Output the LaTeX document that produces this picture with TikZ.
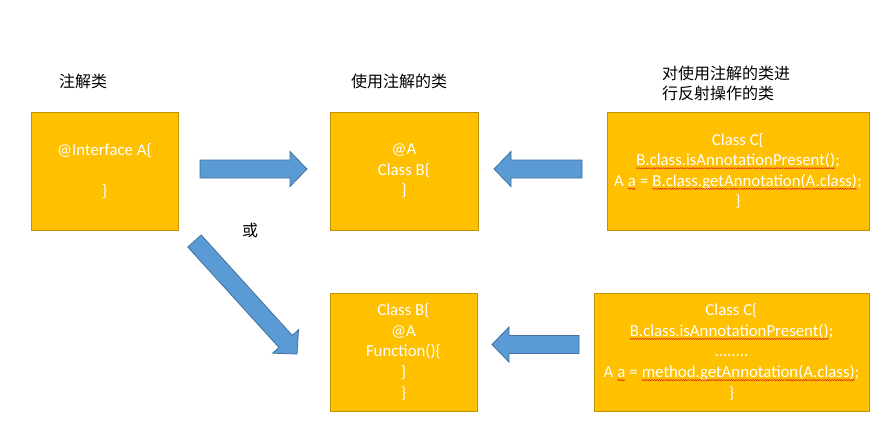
\documentclass[tikz,border=0pt]{standalone}
\usepackage{fontspec}
\setmainfont{Carlito}
\newfontfamily\cjk{Noto Sans CJK SC}
\usetikzlibrary{calc,decorations.pathmorphing}
\definecolor{boxfill}{HTML}{FFC000}
\definecolor{boxline}{HTML}{BF9000}
\definecolor{arrfill}{HTML}{5B9BD5}
\definecolor{arrline}{HTML}{41719C}
\definecolor{sqred}{HTML}{E02020}
\tikzset{sqnode/.style={shape=rectangle, inner sep=0pt, outer sep=0pt, minimum width=0pt,
  minimum height=0pt, draw=none, fill=none, text=white, align=none, anchor=center}}
\newcommand\redsq[1]{\tikz[baseline=(sqt.base)]{\node[sqnode] (sqt) {#1};
  \draw[draw=sqred, fill=none, line width=0.5pt, decorate, decoration={snake, amplitude=0.6pt, segment length=2.4pt}]
    ([yshift=-2.6pt]sqt.base west) -- ([yshift=-2.6pt]sqt.base east);}}
\newcommand\blockarrow[2]{%
  \coordinate (hb) at ($(#2)!17pt!(#1)$);
  \draw[barrow] ($(#1)!9pt!90:(#2)$) -- ($(hb)!9pt!90:(#2)$) -- ($(hb)!17.5pt!90:(#2)$) -- (#2)
    -- ($(hb)!17.5pt!-90:(#2)$) -- ($(hb)!9pt!-90:(#2)$) -- ($(#1)!9pt!-90:(#2)$) -- cycle;}
\begin{document}
\begin{tikzpicture}[x=1pt,y=-1pt,
  box/.style={draw=boxline, fill=boxfill, line width=1pt, text=white, align=center,
    font=\fontsize{16.8}{20.6}\selectfont, inner sep=0pt},
  lab/.style={font=\cjk\fontsize{16}{20}\selectfont, anchor=west, inner sep=0pt, align=left},
  barrow/.style={fill=arrfill, draw=arrline, line width=0.8pt}]
\useasboundingbox (0,0) rectangle (875,440);
\fill[white] (0,0) rectangle (875,440);
% boxes
\node[box, minimum width=147, minimum height=118] (A) at (104.5,171) {@Interface A\{\\ \mbox{}\\ \}};
\node[box, minimum width=148, minimum height=118] (B1) at (404,171) {@A\\ Class B\{\\ \}};
\node[box, minimum width=262, minimum height=118] (C1) at (738,171)
  {Class C\{\\ \redsq{B.class.isAnnotationPresent()};\\ A \redsq{a} = \redsq{B.class.getAnnotation(A.class)};\\ \}};
\node[box, minimum width=147, minimum height=118] (B2) at (403.5,352) {Class B\{\\ @A\\ Function()\{\\ \}\\ \}};
\node[box, minimum width=275, minimum height=118] (C2) at (731.5,352)
  {Class C\{\\ \redsq{B.class.isAnnotationPresent()};\\ ........\\ A \redsq{a} = \redsq{method.getAnnotation(A.class)};\\ \}};
% labels
\node[lab] (LA) at (59,81) {注解类};
\node[lab] (LB) at (351,81) {使用注解的类};
\node[lab] (LC) at (662,83) {对使用注解的类进\\行反射操作的类};
\node[lab] (LO) at (242,230) {或};
% arrows
\coordinate (a1s) at (200,169);
\coordinate (a1e) at (307,169);
\coordinate (a2s) at (582,169);
\coordinate (a2e) at (494,169);
\coordinate (a3s) at (579,344.5);
\coordinate (a3e) at (492,344.5);
\coordinate (a4s) at (194.5,241);
\coordinate (a4e) at (297,354);
\blockarrow{a1s}{a1e}
\blockarrow{a2s}{a2e}
\blockarrow{a3s}{a3e}
\blockarrow{a4s}{a4e}
\end{tikzpicture}
\end{document}
